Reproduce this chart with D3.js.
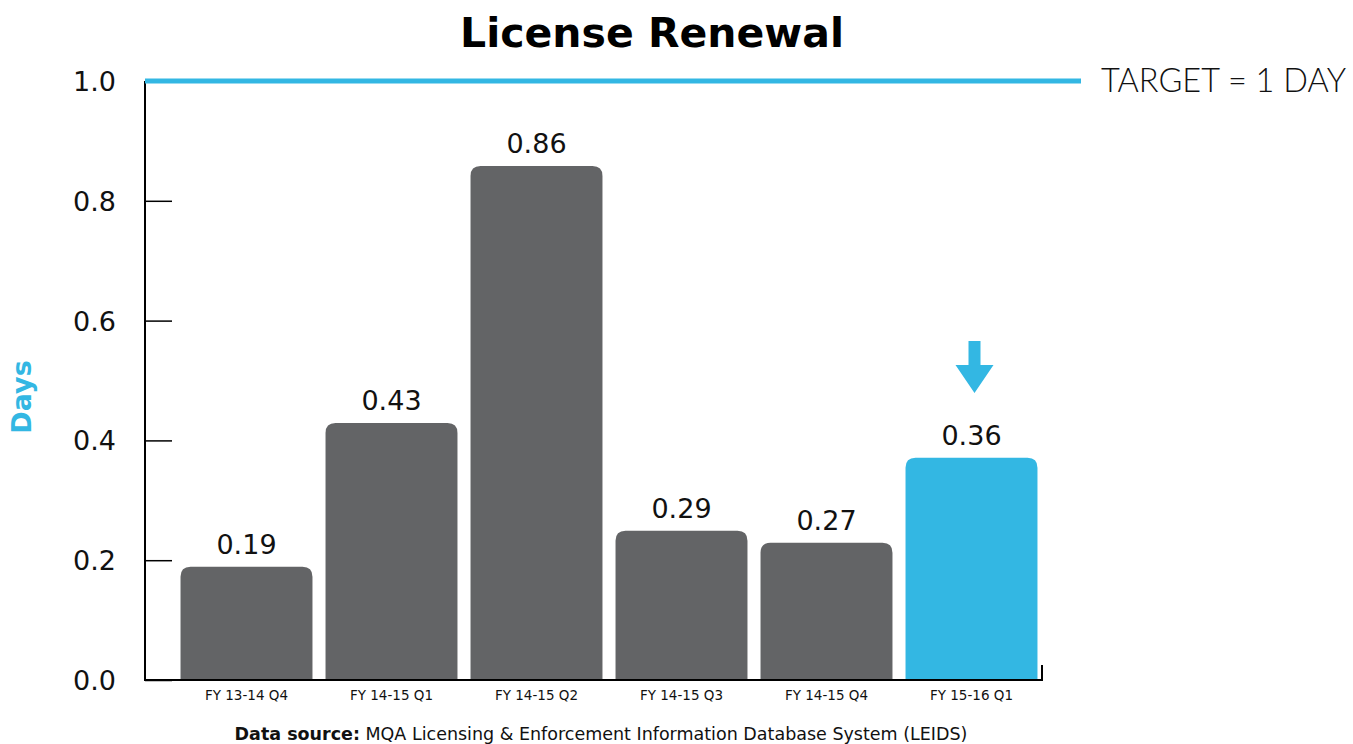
<!DOCTYPE html>
<html><head><meta charset="utf-8">
<script src="https://cdn.jsdelivr.net/npm/d3@7"></script>
<style>body{margin:0;background:#fff}svg{display:block}</style>
</head><body>
<svg id="c" width="1353" height="744"></svg>
<script>
const categories = ["FY 13-14 Q4","FY 14-15 Q1","FY 14-15 Q2","FY 14-15 Q3","FY 14-15 Q4","FY 15-16 Q1"];
const barValues = [0.189, 0.429, 0.858, 0.249, 0.229, 0.371];
const valueLabels = ["0.19","0.43","0.86","0.29","0.27","0.36"];
const highlighted = [false,false,false,false,false,true];
const yTicks = [0, 0.2, 0.4, 0.6, 0.8, 1.0];
const targetValue = 1;
const targetLabel = "TARGET = 1 DAY";

const GRAY = "#636466", BLUE = "#33b7e3";
const FONT = "'DejaVu Sans', Verdana, sans-serif";
const svg = d3.select("#c");
const y = d3.scaleLinear().domain([0,1]).range([680,81]);
const x = d3.scaleBand().domain(categories).range([174,1044]).paddingInner(0.09).paddingOuter(0.045);

// title
svg.append("text").attr("x",652).attr("y",47).attr("text-anchor","middle")
  .attr("font-family",FONT).attr("font-weight",700)
  .attr("font-size",41).attr("fill","#000").text("License Renewal");

// bars with rounded top
const r = 10;
barValues.forEach((v,i)=>{
  const x0 = x(categories[i]), w = x.bandwidth(), y0 = y(v), yb = y(0);
  const p = `M${x0},${yb} L${x0},${y0+r} Q${x0},${y0} ${x0+r},${y0} L${x0+w-r},${y0} Q${x0+w},${y0} ${x0+w},${y0+r} L${x0+w},${yb} Z`;
  svg.append("path").attr("d",p).attr("fill",highlighted[i]?BLUE:GRAY);
  svg.append("text").attr("x",x0+w/2).attr("y",y0-13).attr("text-anchor","middle")
    .attr("font-family",FONT).attr("font-size",27).attr("fill","#111")
    .text(valueLabels[i]);
});

// y axis
const yAxis = d3.axisRight(y).tickValues(yTicks).tickSize(27).tickFormat("");
const gy = svg.append("g").attr("transform","translate(145,0)").call(yAxis);
gy.select(".domain").remove();
gy.selectAll("line").attr("stroke","#000").attr("stroke-width",1.5);
svg.append("line").attr("x1",145).attr("x2",145).attr("y1",y(1)).attr("y2",y(0)+1).attr("stroke","#000").attr("stroke-width",2);
yTicks.forEach(t=>{
  svg.append("text").attr("x",116).attr("y",y(t)+10).attr("text-anchor","end")
    .attr("font-family",FONT).attr("font-size",27).attr("fill","#111")
    .text(d3.format(".1f")(t));
});

// x axis
svg.append("line").attr("x1",144).attr("x2",1043).attr("y1",680).attr("y2",680).attr("stroke","#000").attr("stroke-width",2);
svg.append("line").attr("x1",1042).attr("x2",1042).attr("y1",665).attr("y2",681).attr("stroke","#000").attr("stroke-width",2);
categories.forEach(c=>{
  svg.append("text").attr("x",x(c)+x.bandwidth()/2).attr("y",700).attr("text-anchor","middle")
    .attr("font-family",FONT).attr("font-size",13.5).attr("fill","#111").text(c);
});

// target line
svg.append("line").attr("x1",145).attr("x2",1081).attr("y1",y(targetValue)).attr("y2",y(targetValue))
  .attr("stroke",BLUE).attr("stroke-width",5);
svg.append("text").attr("x",1101).attr("y",y(targetValue)+11).attr("font-family","Lato, sans-serif")
  .attr("font-weight",300).attr("font-size",32.5).attr("fill","#111").text(targetLabel);

// y title
svg.append("text").attr("transform","translate(31,397) rotate(-90)").attr("text-anchor","middle")
  .attr("font-family",FONT).attr("font-weight",700).attr("font-size",27)
  .attr("fill",BLUE).text("Days");

// arrow above highlighted bar
const hi = highlighted.indexOf(true);
const ax = x(categories[hi]) + x.bandwidth()/2 + 3;
svg.append("path").attr("d",`M${ax-6},341 L${ax+6},341 L${ax+6},365 L${ax+19},365 L${ax},393 L${ax-19},365 L${ax-6},365 Z`).attr("fill",BLUE);

// source
const src = svg.append("text").attr("x",601).attr("y",740).attr("text-anchor","middle")
  .attr("font-family",FONT).attr("font-size",17.5).attr("fill","#111");
src.append("tspan").attr("font-weight",700).text("Data source:");
src.append("tspan").text(" MQA Licensing & Enforcement Information Database System (LEIDS)");
</script>
</body></html>
